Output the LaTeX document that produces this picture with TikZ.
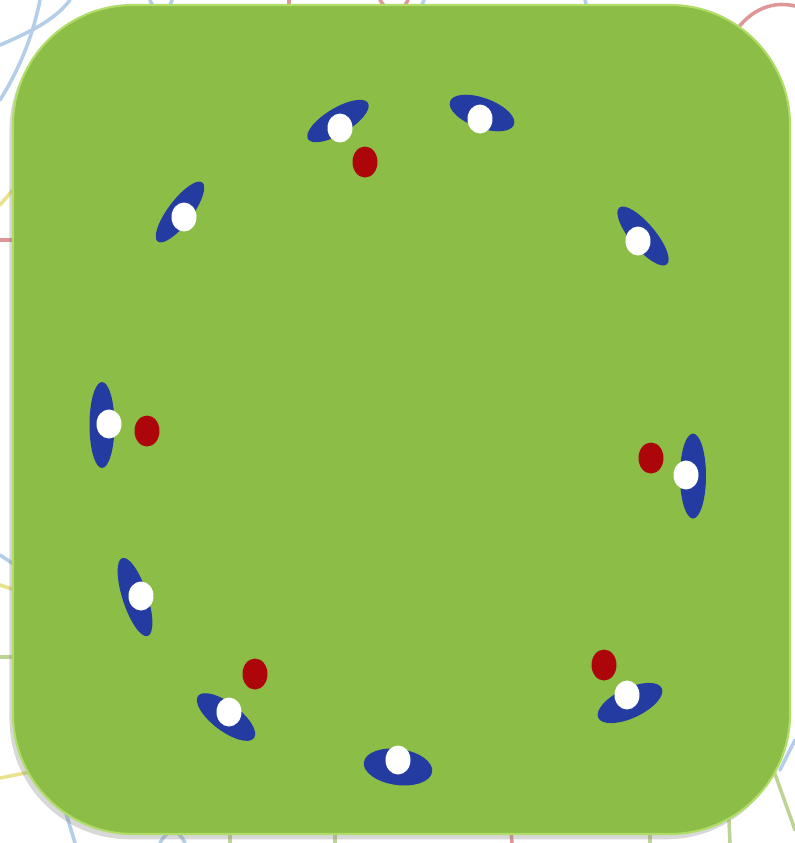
\documentclass[tikz,border=0pt]{standalone}
\usepackage{tikz}
\usetikzlibrary{shapes.geometric,shadows}
\definecolor{pitch}{RGB}{140,189,71}
\definecolor{pitchrim}{RGB}{176,220,104}
\definecolor{kit}{RGB}{36,60,162}
\definecolor{ballred}{RGB}{172,6,10}
\definecolor{wireblue}{RGB}{180,205,232}
\definecolor{wirered}{RGB}{222,150,150}
\definecolor{wireyellow}{RGB}{234,226,140}
\definecolor{wiregreen}{RGB}{190,212,150}

\tikzset{
  wire/.style={line width=2pt,line cap=round},
  player/.style={ellipse,fill=kit,inner sep=0pt},
  head/.style={ellipse,fill=white,inner sep=0pt,
    minimum width=0.5cm,minimum height=0.58cm},
  ball/.style={ellipse,fill=ballred,inner sep=0pt,
    minimum width=0.5cm,minimum height=0.62cm},
}

\begin{document}
\begin{tikzpicture}[x=0.02cm,y=-0.02cm]
  \useasboundingbox[fill=white] (0,0) rectangle (795,843);

  % faint lines behind the board
  \draw[wire,wireblue] (0,100) .. controls (25,60) and (35,25) .. (40,0);
  \draw[wire,wireblue] (0,45) .. controls (30,32) and (55,20) .. (70,0);
  \draw[wire,wireblue] (150,0) .. controls (155,14) and (168,14) .. (172,0);
  \draw[wire,wirered] (289,0) -- (289,20);
  \draw[wire,wirered] (380,0) .. controls (390,16) and (400,16) .. (408,0);
  \draw[wire,wireblue] (416,20) .. controls (420,10) .. (424,0);
  \draw[wire,wireblue] (585,0) -- (590,20);
  \draw[wire,wirered] (720,60) .. controls (740,10) and (770,0) .. (795,6);
  \draw[wire,wireyellow] (0,205) -- (30,170);
  \draw[wire,wirered] (0,240) -- (30,240);
  \draw[wire,wireblue] (0,555) -- (30,575);
  \draw[wire,wireyellow] (0,585) -- (30,595);
  \draw[wire,wiregreen] (0,657) -- (30,657);
  \draw[wire,wireyellow] (0,778) -- (40,770);
  \draw[wire,wireblue] (62,800) -- (75,843);
  \draw[wire,wireblue] (160,843) .. controls (168,828) and (178,828) .. (185,843);
  \draw[wire,wiregreen] (230,820) -- (230,843);
  \draw[wire,wiregreen] (335,820) -- (335,843);
  \draw[wire,wirered] (510,820) -- (512,843);
  \draw[wire,wiregreen] (650,820) -- (650,843);
  \draw[wire,wiregreen] (728,800) -- (730,843);
  \draw[wire,wiregreen] (770,760) -- (795,830);
  \draw[wire,wireblue] (780,770) -- (795,740);

  % the board
  \path[fill=pitch,draw=pitchrim,line width=1.2pt,rounded corners=2.4cm,
    drop shadow={shadow xshift=-2pt,shadow yshift=-3pt,opacity=.3}]
    (13,5) rectangle (790,834);

  % players: body, then head
  \foreach \cx/\cy/\ang/\len/\wid/\hx/\hy [count=\i] in {
      338/121/31/70/26/340/128,
      482/113/-20/68/30/480/119,
      180/212/53/74/24/184/217,
      643/236/-50/74/25/638/241,
      102/425/90/86/25/109/424,
      693/476/90/85/26/686/475,
      135/597/-72/82/25/141/596,
      226/717/-37/70/28/229/712,
      398/767/-8/69/36/398/760,
      630/703/25/70/30/627/695}{
    \node[player,rotate=\ang,minimum width=\len*0.02cm,
      minimum height=\wid*0.02cm] (p\i) at (\cx,\cy) {};
    \node[head] (h\i) at (\hx,\hy) {};
  }

  % balls
  \foreach \bx/\by [count=\i] in {365/162,147/431,651/458,255/674,604/665}
    \node[ball] (b\i) at (\bx,\by) {};
\end{tikzpicture}
\end{document}
